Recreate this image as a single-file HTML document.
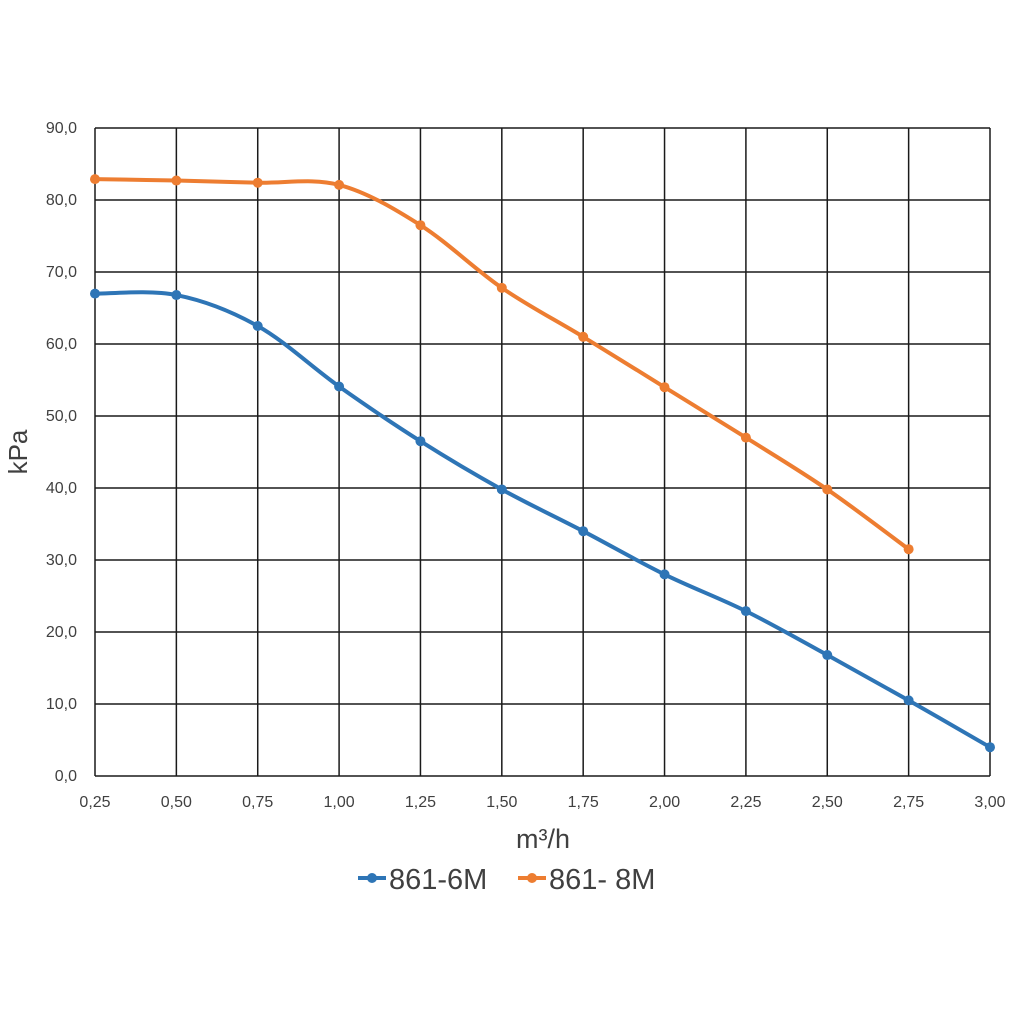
<!DOCTYPE html>
<html><head><meta charset="utf-8"><style>
html,body{margin:0;padding:0;background:#fff;}
svg{display:block;font-family:"Liberation Sans",sans-serif;}
</style></head><body>
<svg id="c" width="1020" height="1020" viewBox="0 0 1020 1020" xmlns="http://www.w3.org/2000/svg">
<rect width="1020" height="1020" fill="#fff"/>
<g id="grid" stroke="#1a1a1a" stroke-width="1.5"></g>
<g id="lab" fill="#404040" font-size="16"></g>
<text x="27" y="452" font-size="26" fill="#404040" text-anchor="middle" transform="rotate(-90 27 452)">kPa</text>
<text x="543" y="848" font-size="27" fill="#404040" text-anchor="middle">m³/h</text>
<path id="pb" fill="none" stroke="#2e75b6" stroke-width="4"/>
<path id="po" fill="none" stroke="#ed7d31" stroke-width="4"/>
<g id="mk"></g>
<line x1="358" y1="878" x2="386" y2="878" stroke="#2e75b6" stroke-width="4"/>
<circle cx="372" cy="878" r="5" fill="#2e75b6"/>
<text x="389" y="889" font-size="29" fill="#404040">861-6M</text>
<line x1="518" y1="878" x2="546" y2="878" stroke="#ed7d31" stroke-width="4"/>
<circle cx="532" cy="878" r="5" fill="#ed7d31"/>
<text x="549" y="889" font-size="29" fill="#404040">861- 8M</text>
</svg>
<script>
var ns="http://www.w3.org/2000/svg";
function X(i){return 95+i*(895/11);}
function Y(v){return 776-v*7.2;}
var g=document.getElementById('grid'),l=document.getElementById('lab');
function el(p,t,a,txt){var e=document.createElementNS(ns,t);for(var k in a)e.setAttribute(k,a[k]);if(txt)e.textContent=txt;p.appendChild(e);return e;}
for(var i=0;i<12;i++){var x=X(i);el(g,'line',{x1:x,y1:128,x2:x,y2:776});
var v=(0.25+i*0.25).toFixed(2).replace('.',',');el(l,'text',{x:x,y:807,'text-anchor':'middle'},v);}
for(var j=0;j<=9;j++){var y=Y(j*10);el(g,'line',{x1:95,y1:y,x2:990,y2:y});
el(l,'text',{x:77,y:y+5,'text-anchor':'end'},(j*10).toFixed(1).replace('.',','));}
var b=[67,66.8,62.5,54.1,46.5,39.8,34,28,22.9,16.8,10.5,4.0];
var o=[82.9,82.7,82.4,82.1,76.5,67.8,61,54,47,39.8,31.5];
function path(d){var p=d.map(function(v,i){return [X(i),Y(v)];});var s='M'+p[0];
for(var i=0;i<p.length-1;i++){var p0=p[Math.max(i-1,0)],p1=p[i],p2=p[i+1],p3=p[Math.min(i+2,p.length-1)];
var t=6;s+=' C'+(p1[0]+(p2[0]-p0[0])/t)+','+(p1[1]+(p2[1]-p0[1])/t)+' '+(p2[0]-(p3[0]-p1[0])/t)+','+(p2[1]-(p3[1]-p1[1])/t)+' '+p2;}return s;}
document.getElementById('pb').setAttribute('d',path(b));
document.getElementById('po').setAttribute('d',path(o));
var m=document.getElementById('mk');
b.forEach(function(v,i){el(m,'circle',{cx:X(i),cy:Y(v),r:5,fill:'#2e75b6'});});
o.forEach(function(v,i){el(m,'circle',{cx:X(i),cy:Y(v),r:5,fill:'#ed7d31'});});
</script>
</body></html>
